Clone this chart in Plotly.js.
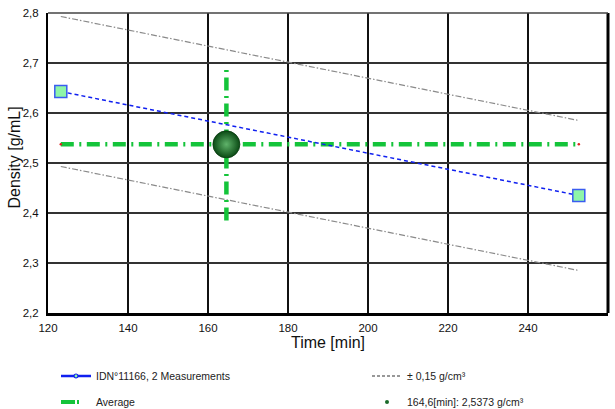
<!DOCTYPE html>
<html>
<head>
<meta charset="utf-8">
<script src="https://cdn.plot.ly/plotly-3.0.1.min.js"></script>
<style>html,body{margin:0;padding:0;background:#fff;}#chart{width:615px;height:409px;}</style>
</head>
<body>
<div id="chart"></div>
<script>
// Measurements
const measTime = [123.2, 252.7];
const measDensity = [2.643, 2.435];
// ± 0,15 g/cm³ band
const bandTime = [123.2, 252.7];
const bandUpper = [2.793, 2.585];
const bandLower = [2.493, 2.285];
// Average
const avgLineTime = [123.2, 252.7];
const avgLineDensity = [2.5373, 2.5373];
const avgVertTime = [164.6, 164.6];
const avgVertDensity = [2.385, 2.692];
const avgPointTime = [164.6];
const avgPointDensity = [2.5373];
// Labels
const seriesNames = ['IDN°11166, 2 Measurements', '± 0,15 g/cm³', 'Average', '164,6[min]: 2,5373 g/cm³'];
const xTitle = 'Time [min]';
const yTitle = 'Density [g/mL]';

const FONT = 'Liberation Sans, Arial, sans-serif';
const greenDash = '13px,5.5px,2px,5.5px';
const NONE = [null];

const traces = [
  {
    x: bandTime, y: bandUpper, mode: 'lines', showlegend: false,
    line: {color: '#8a8a8a', width: 1.2, dash: '6px,2px,1.5px,2px'}
  },
  {
    x: bandTime, y: bandLower, mode: 'lines', showlegend: false,
    line: {color: '#8a8a8a', width: 1.2, dash: '6px,2px,1.5px,2px'}
  },
  {
    x: avgLineTime, y: avgLineDensity, mode: 'lines+markers', showlegend: false,
    line: {color: '#14c43a', width: 4.5, dash: greenDash},
    marker: {color: '#e02020', size: 2.5}
  },
  {
    x: avgVertTime, y: avgVertDensity, mode: 'lines', showlegend: false,
    line: {color: '#14c43a', width: 4.5, dash: greenDash}
  },
  {
    x: measTime, y: measDensity, mode: 'lines+markers', showlegend: false,
    line: {color: '#1020f0', width: 1.5, dash: '4px,3px'},
    marker: {symbol: 'square', size: 12, color: '#8ef5a8', line: {color: '#3a5cf0', width: 1.5}}
  },
  {
    x: avgPointTime, y: avgPointDensity, mode: 'markers', showlegend: false,
    marker: {size: 27, color: '#0a4a14', gradient: {type: 'radial', color: '#5fb36a'},
             line: {color: '#0a3a10', width: 0.8}}
  },
  // legend entries
  {
    x: NONE, y: NONE, mode: 'lines+markers', name: seriesNames[0], legend: 'legend',
    line: {color: '#1020f0', width: 2.5},
    marker: {symbol: 'circle', size: 4, color: '#8ef5a8', line: {color: '#1020f0', width: 1.2}}
  },
  {
    x: NONE, y: NONE, mode: 'lines', name: seriesNames[1], legend: 'legend2',
    line: {color: '#777', width: 1.5, dash: '3px,2px'}
  },
  {
    x: NONE, y: NONE, mode: 'lines', name: seriesNames[2], legend: 'legend3',
    line: {color: '#14c43a', width: 4, dash: '14px,2px,2px,20px'}
  },
  {
    x: NONE, y: NONE, mode: 'markers', name: seriesNames[3], legend: 'legend4',
    marker: {size: 4, color: '#1a6b2a'}
  }
];

const legendBase = {
  orientation: 'h', xref: 'container', yref: 'container',
  xanchor: 'left', yanchor: 'middle',
  font: {family: FONT, size: 10.5, color: '#222'},
  bgcolor: 'rgba(0,0,0,0)', itemwidth: 30, itemsizing: 'trace'
};

const layout = {
  width: 615, height: 409,
  margin: {l: 48, r: 7, t: 13, b: 96},
  paper_bgcolor: '#fff', plot_bgcolor: '#fff',
  separators: ',.',
  font: {family: FONT, color: '#111'},
  xaxis: {
    range: [120, 260], dtick: 20, tick0: 120,
    showgrid: true, gridcolor: '#111', gridwidth: 1.5,
    showline: true, linecolor: '#000', linewidth: 3,
    zeroline: false, ticks: '', ticklabelstandoff: 2,
    tickfont: {size: 11.5, color: '#111'},
    title: {text: xTitle, font: {size: 16, color: '#111'}, standoff: 2}
  },
  yaxis: {
    range: [2.2, 2.8], dtick: 0.1, tick0: 2.2, tickformat: '.1f',
    showgrid: true, gridcolor: '#333', gridwidth: 1.8,
    showline: true, linecolor: '#000', linewidth: 2,
    zeroline: false, ticks: '', ticklabelstandoff: 5,
    tickfont: {size: 11.5, color: '#111'}
  },
  annotations: [
    {text: yTitle, xref: 'paper', yref: 'paper', x: -0.059, y: 0.518,
     xanchor: 'center', yanchor: 'middle', textangle: -90, showarrow: false,
     font: {family: FONT, size: 16, color: '#111'}}
  ],
  showlegend: true,
  legend: Object.assign({}, legendBase, {x: 56/615, y: 1 - 376/409}),
  legend2: Object.assign({}, legendBase, {x: 367/615, y: 1 - 376/409}),
  legend3: Object.assign({}, legendBase, {x: 56/615, y: 1 - 402/409}),
  legend4: Object.assign({}, legendBase, {x: 367/615, y: 1 - 402/409}),
  shapes: [
    {type: 'line', xref: 'paper', yref: 'paper', x0: 1, x1: 1, y0: 0, y1: 1,
     line: {color: '#000', width: 3}},
    {type: 'line', xref: 'paper', yref: 'paper', x0: 0, x1: 1, y0: 1, y1: 1,
     line: {color: '#444', width: 1.5}}
  ]
};

Plotly.newPlot('chart', traces, layout, {staticPlot: true, displayModeBar: false});
</script>
</body>
</html>
